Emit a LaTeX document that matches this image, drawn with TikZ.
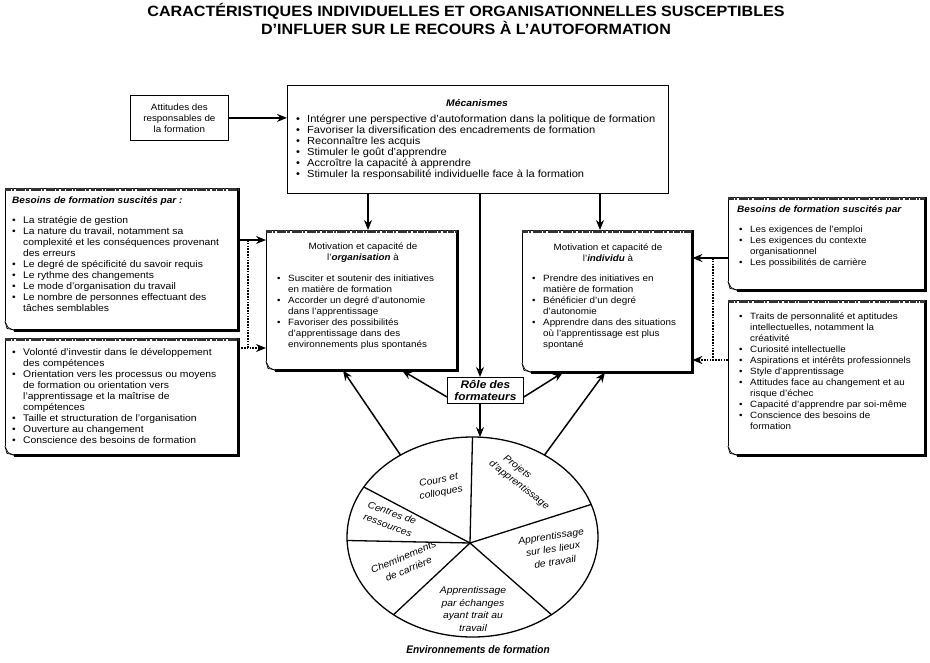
\documentclass[tikz,border=0pt]{standalone}
\usepackage{fontspec}
\setmainfont{Liberation Sans}[FakeStretch=1.08]
\newfontfamily\condfont{Liberation Sans}[FakeStretch=0.92]
\usetikzlibrary{arrows.meta,calc}
\newcommand\bl{\makebox[11pt][l]{\textbullet}}
\newcommand\cl{\hspace*{11pt}}
\newcommand\notedeco[1]{%
  \draw[line width=0.7pt] ([yshift=9pt]#1.south west) -- (#1.north west) -- (#1.north east);
  \draw[line width=2.4pt] (#1.north east) -- (#1.south east) -- ([xshift=9pt]#1.south west);
  \draw[line width=0.7pt] ([yshift=9pt]#1.south west) -- ([xshift=3pt,yshift=3pt]#1.south west) -- ([xshift=9pt]#1.south west);
  \draw[line width=0.7pt] ([yshift=9pt]#1.south west) -- ([xshift=2pt,yshift=2pt]#1.south west) -- ([xshift=9pt,yshift=0.5pt]#1.south west);
  \draw[line width=2.6pt, black!80, dash pattern=on 6pt off 1pt on 2pt off 1.5pt on 9pt off 1pt on 3pt off 2pt on 4pt off 0.8pt]
    ([yshift=-1.3pt]#1.north west) -- ([yshift=-1.3pt]#1.north east);
}
\tikzset{
  area/.style={draw=none, rectangle, inner sep=0pt, anchor=north west},
  plainbox/.style={draw, line width=0.8pt, rectangle, inner sep=0pt, anchor=north west},
  txt/.style={inner sep=0pt, anchor=north west, align=left, font=\fontsize{9.1}{11}\selectfont},
  ltxt/.style={txt, font=\fontsize{9.6}{11}\selectfont},
  ctxt/.style={inner sep=0pt, align=center, font=\fontsize{9.1}{11}\selectfont},
  hdtxt/.style={inner sep=0pt, anchor=north west, font=\fontsize{9.3}{11}\selectfont\bfseries\itshape},
  pietxt/.style={inner sep=0pt, align=center, font=\fontsize{9.6}{13}\selectfont\itshape},
  arr/.style={line width=1.5pt, -{Stealth[length=10pt,width=8pt]}},
  dotline/.style={line width=1.6pt, dash pattern=on 1.6pt off 1.2pt},
  dotarr/.style={dotline, -{Stealth[length=10pt,width=8pt]}},
  pie/.style={line width=1.3pt},
}
\begin{document}
\begin{tikzpicture}[x=1pt,y=-1pt]
\useasboundingbox (0,0) rectangle (930,662);
% title
\node[inner sep=0pt, align=center, font=\fontsize{14.9}{15}\selectfont\bfseries] (title) at (466,19)
  {CARACTÉRISTIQUES INDIVIDUELLES ET ORGANISATIONNELLES SUSCEPTIBLES\\D'INFLUER SUR LE RECOURS À L'AUTOFORMATION};

% attitudes
\node[plainbox, minimum width=98pt, minimum height=45pt] (att) at (130,95) {};
\node[ctxt] (attt) at (att.center) {Attitudes des\\responsables de\\la formation};

% mecanismes
\node[plainbox, minimum width=381pt, minimum height=108pt] (mec) at (287,85) {};
\node[ctxt, font=\fontsize{9.6}{11}\selectfont\bfseries\itshape] (mect) at (477,103) {Mécanismes};
\node[txt, font=\fontsize{10.3}{11}\selectfont] (mecl) at (296,115) {\bl Intégrer une perspective d'autoformation dans la politique de formation\\
\bl Favoriser la diversification des encadrements de formation\\
\bl Reconnaître les acquis\\
\bl Stimuler le goût d'apprendre\\
\bl Accroître la capacité à apprendre\\
\bl Stimuler la responsabilité individuelle face à la formation};

% left top
\node[area, minimum width=233pt, minimum height=142pt] (lt) at (5,188) {};
\notedeco{lt}
\node[hdtxt] (ltt) at (12,196) {Besoins de formation suscités par :};
\node[ltxt] (ltl) at (12,216) {\bl La stratégie de gestion\\
\bl La nature du travail, notamment sa\\
\cl complexité et les conséquences provenant\\
\cl des erreurs\\
\bl Le degré de spécificité du savoir requis\\
\bl Le rythme des changements\\
\bl Le mode d'organisation du travail\\
\bl Le nombre de personnes effectuant des\\
\cl tâches semblables};

% left bottom
\node[area, minimum width=233pt, minimum height=117pt] (lb) at (5,338) {};
\notedeco{lb}
\node[ltxt] (lbl) at (12,348) {\bl Volonté d'investir dans le développement\\
\cl des compétences\\
\bl Orientation vers les processus ou moyens\\
\cl de formation ou orientation vers\\
\cl l'apprentissage et la maîtrise de\\
\cl compétences\\
\bl Taille et structuration de l'organisation\\
\bl Ouverture au changement\\
\bl Conscience des besoins de formation};

% organisation
\node[area, minimum width=191pt, minimum height=140pt] (ob) at (266,230) {};
\notedeco{ob}
\node[ctxt] (obt) at (363,253) {Motivation et capacité de\\l'\textbf{\textit{organisation}} à};
\node[txt] (obl) at (277,275) {\bl Susciter et soutenir des initiatives\\
\cl en matière de formation\\
\bl Accorder un degré d'autonomie\\
\cl dans l'apprentissage\\
\bl Favoriser des possibilités\\
\cl d'apprentissage dans des\\
\cl environnements plus spontanés};

% individu
\node[area, minimum width=170pt, minimum height=142pt] (ib) at (522,230) {};
\notedeco{ib}
\node[ctxt] (ibt) at (608,253) {Motivation et capacité de\\l'\textbf{\textit{individu}} à};
\node[txt] (ibl) at (532,275) {\bl Prendre des initiatives en\\
\cl matière de formation\\
\bl Bénéficier d'un degré\\
\cl d'autonomie\\
\bl Apprendre dans des situations\\
\cl où l'apprentissage est plus\\
\cl spontané};

% right top
\node[area, minimum width=197pt, minimum height=93pt] (rt) at (728,197) {};
\notedeco{rt}
\node[hdtxt] (rtt) at (737,205) {Besoins de formation suscités par};
\node[txt] (rtl) at (739,226) {\bl Les exigences de l'emploi\\
\bl Les exigences du contexte\\
\cl organisationnel\\
\bl Les possibilités de carrière};

% right bottom
\node[area, minimum width=197pt, minimum height=155pt] (rb) at (728,300) {};
\notedeco{rb}
\node[txt] (rbl) at (739,313) {\bl Traits de personnalité et aptitudes\\
\cl intellectuelles, notamment la\\
\cl créativité\\
\bl Curiosité intellectuelle\\
\bl Aspirations et intérêts professionnels\\
\bl Style d'apprentissage\\
\bl Attitudes face au changement et au\\
\cl risque d'échec\\
\bl Capacité d'apprendre par soi-même\\
\bl Conscience des besoins de\\
\cl formation};

% role
\node[plainbox, minimum width=76pt, minimum height=26pt] (role) at (447,377) {};
\node[ctxt, font=\fontsize{11}{12.5}\selectfont\bfseries\itshape] (rolet) at (role.center) {Rôle des\\formateurs};

% ellipse
\coordinate (ec) at (472.5,537);
\coordinate (hub) at (470,543);
\draw[pie] (ec) ellipse (125.5 and 100);
\draw[pie] (hub) -- ($(ec)+(-90:125.5 and 100)$);
\draw[pie] (hub) -- ($(ec)+(-19:125.5 and 100)$);
\draw[pie] (hub) -- ($(ec)+(51:125.5 and 100)$);
\draw[pie] (hub) -- ($(ec)+(129:125.5 and 100)$);
\draw[pie] (hub) -- ($(ec)+(178:125.5 and 100)$);
\draw[pie] (hub) -- ($(ec)+(-150:125.5 and 100)$);
\coordinate (eTop) at ($(ec)+(-87:125.5 and 100)$);
\coordinate (eL) at ($(ec)+(-125:125.5 and 100)$);
\coordinate (eR) at ($(ec)+(-55:125.5 and 100)$);

\node[pietxt, rotate=11] (p1) at (440,487) {Cours et\\colloques};
\node[pietxt, rotate=-38, align=left] (p2) at (523,480) {\hspace*{8pt}Projets\\d'apprentissage};
\node[pietxt, rotate=-20] (p3) at (390,519) {Centres de\\ressources};
\node[pietxt, rotate=23] (p4) at (406,563) {Cheminements\\de carrière};
\node[pietxt, rotate=9] (p5) at (553,549) {Apprentissage\\sur les lieux\\de travail};
\node[pietxt, font=\fontsize{9.6}{12.7}\selectfont\itshape] (p6) at (473,609) {Apprentissage\\par échanges\\ayant trait au\\travail};
\node[inner sep=0pt, font=\fontsize{11}{12}\condfont\bfseries\itshape] (envt) at (478,650) {Environnements de formation};

% connectors
\draw[arr] (att.east) -- (att.east -| mec.west);
\draw[arr] (mec.south -| 368,0) -- (ob.north -| 368,0);
\draw[arr] (mec.south -| 600,0) -- (ib.north -| 600,0);
\draw[arr] (mec.south -| 480,0) -- (role.north -| 480,0);
\draw[arr] (role.south -| 480,0) -- (eTop -| 480,0);
\draw[arr] (role.west |- 0,397) -- (ob.south -| 402,0);
\draw[arr] (role.east |- 0,397) -- (ib.south -| 563,0);
\draw[arr] (eL) -- (ob.south -| 343,0);
\draw[arr] (eR) -- (ib.south -| 605,0);
% left
\draw[arr] (lt.east |- 0,240) -- (ob.west |- 0,240);
\draw[dotline] (248,240) -- (248,348);
\draw[dotarr] (lb.east |- 0,348) -- (ob.west |- 0,348);
% right
\draw[arr] (rt.west |- 0,258) -- (ib.east |- 0,258);
\draw[dotline] (713,258) -- (713,360);
\draw[dotarr] (rb.west |- 0,360) -- (ib.east |- 0,360);
\end{tikzpicture}
\end{document}
